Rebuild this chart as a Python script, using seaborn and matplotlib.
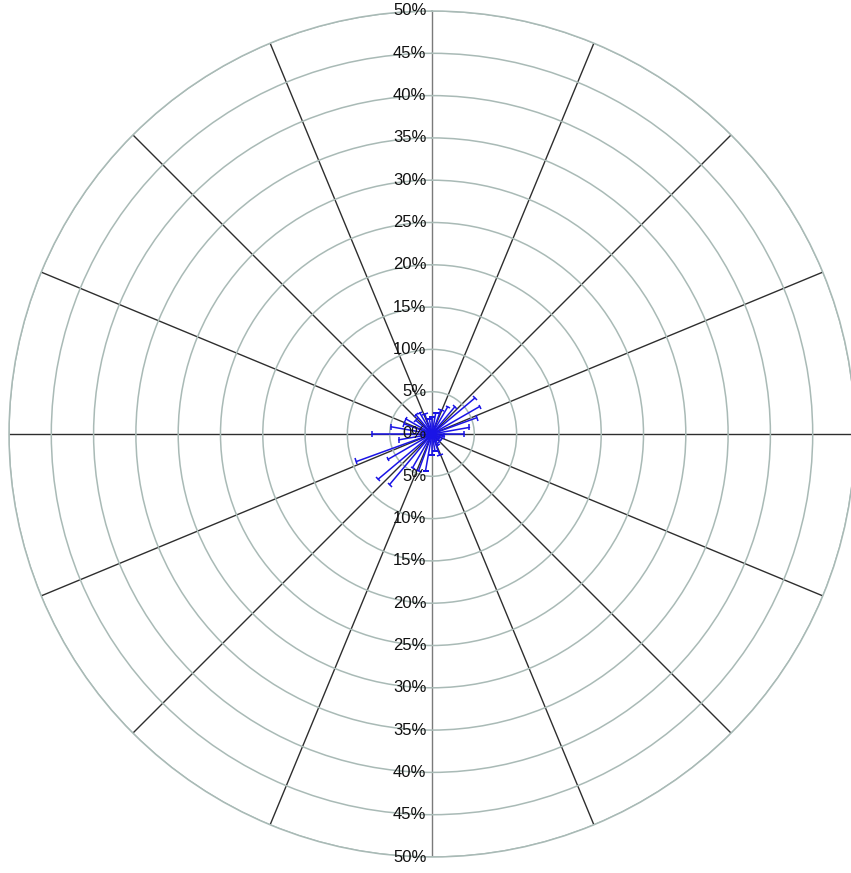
import numpy as np
import pandas as pd
import matplotlib
matplotlib.use("Agg")
import matplotlib.pyplot as plt
from matplotlib.markers import MarkerStyle
from matplotlib.transforms import Affine2D
import seaborn as sns

# Direction (degrees clockwise from north) and frequency (%) of each spoke
directions = [0, 10, 20, 30, 40, 50, 60, 70, 80, 90, 100, 110,
              120, 130, 140, 150, 160, 170, 180, 190, 200, 210, 220, 230,
              240, 250, 260, 270, 280, 290, 300, 310, 320, 330, 340, 350]
frequency = [2.0, 2.5, 3.0, 3.7, 4.2, 6.6, 6.5, 5.6, 4.5, 3.8, 1.5, 1.2,
             1.0, 1.2, 1.0, 1.5, 2.6, 2.0, 2.5, 4.4, 4.6, 4.6, 7.8, 8.3,
             6.0, 9.5, 4.0, 7.1, 4.9, 3.5, 3.6, 2.5, 3.0, 2.9, 2.5, 1.8]

ring_values = [5, 10, 15, 20, 25, 30, 35, 40, 45, 50]
ring_labels = ["5%", "10%", "15%", "20%", "25%", "30%", "35%", "40%", "45%", "50%"]
sector_angles = np.arange(0, 360, 22.5)

sns.set_theme(style="white")
plt.rcParams["font.family"] = ["Liberation Sans", "DejaVu Sans"]

fig = plt.figure(figsize=(8.51, 8.73), dpi=100)
ax = fig.add_axes([9 / 851, 16 / 873, 846 / 851, 846 / 873], projection="polar")
ax.set_theta_zero_location("N")
ax.set_theta_direction(-1)
ax.set_ylim(0, 50)

ring_color = "#a9bab6"
ax.set_rgrids(ring_values, labels=[""] * len(ring_values))
ax.set_thetagrids(sector_angles, labels=[""] * len(sector_angles))
ax.yaxis.grid(True, color=ring_color, linewidth=1.1)
ax.xaxis.grid(True, color="#2e2e2e", linewidth=1.0)
for i, gl in enumerate(ax.xaxis.get_gridlines()):
    if sector_angles[i] in (0, 180):
        gl.set_color("#7a7a7a")
ax.spines["polar"].set_color(ring_color)
ax.spines["polar"].set_linewidth(1.1)
ax.set_facecolor("white")

# Radial spokes from the centre out to each frequency
theta = np.deg2rad(directions)
rows = []
for k, (t, r) in enumerate(zip(theta, frequency)):
    rows.append({"spoke": k, "theta": t, "r": 0.0})
    rows.append({"spoke": k, "theta": t, "r": r})
df = pd.DataFrame(rows)
sns.lineplot(data=df, x="theta", y="r", units="spoke", estimator=None, sort=False,
             color="#1a14e6", linewidth=1.1, ax=ax, legend=False, zorder=4)

# End caps perpendicular to each spoke
for t, d, r in zip(theta, directions, frequency):
    cap = MarkerStyle("|", transform=Affine2D().rotate_deg(90 - d))
    ax.plot([t], [r], marker=cap, markersize=4, markeredgewidth=1.1,
            color="#1a14e6", linestyle="none", zorder=4)

ax.set_xlabel("")
ax.set_ylabel("")

# Percentage labels along the vertical axis, above and below the centre
label_kw = dict(textcoords="offset points", ha="right", va="center",
                fontsize=12, color="#111111", zorder=6, annotation_clip=False)
ax.annotate("0%", xy=(0, 0), xytext=(-4, 0), **label_kw)
for v, s in zip(ring_values, ring_labels):
    ax.annotate(s, xy=(0, v), xytext=(-4, 0), **label_kw)
    ax.annotate(s, xy=(np.pi, v), xytext=(-4, 0), **label_kw)

fig.savefig("out.png", dpi=100, facecolor="white")
